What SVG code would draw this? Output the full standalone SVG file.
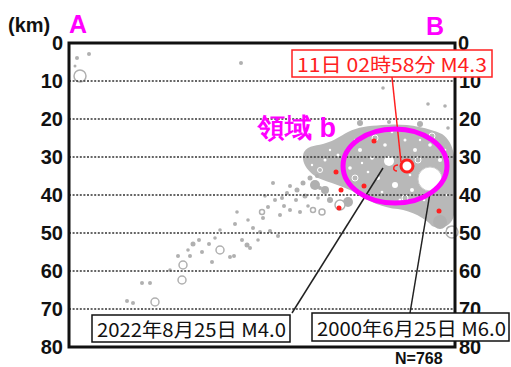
<svg xmlns="http://www.w3.org/2000/svg" width="511" height="367" viewBox="0 0 511 367">
<style>
.ax{font-family:"Liberation Sans",Arial,sans-serif;font-weight:bold;font-size:20px;fill:#111}
.axl{text-anchor:end}
.mg{font-family:"Liberation Sans",Arial,sans-serif;font-weight:bold;fill:#ff00ff}
.grid{stroke:#333;stroke-width:1.5;stroke-dasharray:2 1.6}
.d{fill:#b0b0b0}
.h{fill:#fff;stroke:#b0b0b0;stroke-width:1.5}
.hs{fill:none;stroke:#fff;stroke-width:1}
.w{fill:#fff}
.r{fill:#ff2020}
.lbl{font-family:"Noto Sans CJK JP","Liberation Sans",sans-serif;font-size:19px;fill:#111}
.box{fill:#fff;stroke:#111;stroke-width:1.5}
</style>
<rect width="511" height="367" fill="#fff"/>

<g id="scatter">
  <path d="M304,152 C308,145 318,146 326,143 C334,141 340,136 348,132 C358,127 368,126 382,125 C402,123 425,126 442,134 C455,143 456,160 455,185 L454,215 C452,226 442,230 432,226 C425,218 412,211 398,209 C383,208 370,202 356,193 C343,186 330,183 318,178 C308,172 300,162 304,152 Z" fill="#b8b8b8"/>
  <circle class="d" cx="315" cy="185" r="5"/><circle class="d" cx="325" cy="190" r="4"/>
  <circle class="d" cx="348" cy="202" r="5"/><circle class="d" cx="330" cy="200" r="3"/>
  <circle class="d" cx="440" cy="222" r="7"/><circle class="d" cx="450" cy="230" r="4"/>
  <circle class="d" cx="360" cy="123" r="3"/><circle class="d" cx="420" cy="124" r="3"/>
  <g class="w">
  <circle cx="360" cy="150" r="2"/><circle cx="372" cy="158" r="1.8"/>
  <circle cx="385" cy="145" r="1.8"/><circle cx="415" cy="150" r="2"/>
  <circle cx="430" cy="145" r="1.8"/><circle cx="395" cy="185" r="3"/>
  <circle cx="378" cy="178" r="2"/><circle cx="412" cy="190" r="2"/>
  <circle cx="350" cy="168" r="1.8"/><circle cx="440" cy="160" r="2"/>
  <circle cx="405" cy="140" r="1.5"/><circle cx="365" cy="195" r="1.5"/>
  <circle cx="325" cy="160" r="1.5"/><circle cx="338" cy="155" r="1.5"/>
  <circle cx="355" cy="140" r="1.2"/><circle cx="368" cy="172" r="1.3"/>
  <circle cx="382" cy="192" r="1.3"/><circle cx="420" cy="140" r="1.2"/>
  <circle cx="445" cy="150" r="1.3"/><circle cx="424" cy="200" r="1.3"/>
  <circle cx="400" cy="200" r="1.5"/><circle cx="346" cy="180" r="1.3"/>
  <circle cx="312" cy="165" r="1.2"/><circle cx="330" cy="150" r="1.2"/>
  <circle cx="392" cy="132" r="1.3"/><circle cx="410" cy="175" r="1.3"/>
  <circle cx="447" cy="195" r="1.3"/><circle cx="362" cy="163" r="1.2"/>
  </g>
  <circle class="hs" cx="375" cy="138" r="3"/><circle class="hs" cx="418" cy="160" r="3"/>
  <circle class="hs" cx="355" cy="178" r="3"/><circle class="hs" cx="432" cy="136" r="3"/>
  <circle class="hs" cx="405" cy="198" r="3"/><circle class="hs" cx="320" cy="170" r="2.5"/>
  <circle class="h" cx="340" cy="205" r="5"/><circle class="h" cx="322" cy="212" r="3"/>
  <circle class="h" cx="313" cy="210" r="2.5"/><circle class="h" cx="262" cy="212" r="2.5"/>
  <circle class="h" cx="220" cy="250" r="4"/><circle class="h" cx="183" cy="265" r="4"/>
  <circle class="h" cx="182" cy="280" r="4"/><circle class="h" cx="155" cy="302" r="4"/>
  <circle class="h" cx="80" cy="76" r="6"/><circle class="h" cx="452" cy="232" r="6"/>
  <circle class="d" cx="77" cy="58" r="2"/><circle class="d" cx="89" cy="54" r="2"/>
  <circle class="d" cx="75" cy="66" r="1.5"/><circle class="d" cx="241" cy="63" r="2"/>
  <circle class="d" cx="383" cy="88" r="1.8"/><circle class="d" cx="428" cy="104" r="1.8"/>
  <circle class="d" cx="445" cy="106" r="1.8"/><circle class="d" cx="448" cy="128" r="1.8"/>
  <circle class="d" cx="389" cy="122" r="2"/><circle class="d" cx="273" cy="183" r="2"/>
  <circle class="d" cx="142" cy="283" r="2"/><circle class="d" cx="150" cy="283" r="2"/>
  <circle class="d" cx="127" cy="301" r="2"/><circle class="d" cx="133" cy="303" r="2"/>
  <circle class="d" cx="178" cy="256" r="2"/><circle class="d" cx="190" cy="256" r="2"/>
  <circle class="d" cx="193" cy="244" r="2.5"/><circle class="d" cx="199" cy="240" r="2"/>
  <circle class="d" cx="202" cy="252" r="2"/><circle class="d" cx="209" cy="244" r="2"/>
  <circle class="d" cx="212" cy="262" r="2"/><circle class="d" cx="230" cy="257" r="2"/>
  <circle class="d" cx="234" cy="256" r="2"/><circle class="d" cx="235" cy="224" r="2"/>
  <circle class="d" cx="242" cy="240" r="2"/><circle class="d" cx="247" cy="245" r="2.5"/>
  <circle class="d" cx="250" cy="248" r="2"/><circle class="d" cx="253" cy="228" r="2"/>
  <circle class="d" cx="260" cy="232" r="2"/><circle class="d" cx="263" cy="218" r="2"/>
  <circle class="d" cx="268" cy="207" r="2"/><circle class="d" cx="270" cy="231" r="2"/>
  <circle class="d" cx="278" cy="236" r="2"/><circle class="d" cx="275" cy="200" r="2"/>
  <circle class="d" cx="282" cy="198" r="2"/><circle class="d" cx="287" cy="193" r="2"/>
  <circle class="d" cx="290" cy="210" r="2"/><circle class="d" cx="300" cy="212" r="2"/>
  <circle class="d" cx="290" cy="186" r="2"/><circle class="d" cx="297" cy="190" r="2.5"/>
  <circle class="d" cx="303" cy="183" r="2.5"/><circle class="d" cx="310" cy="178" r="2.5"/>
  <circle class="d" cx="317" cy="176" r="2"/><circle class="d" cx="320" cy="188" r="2"/>
  <circle class="d" cx="305" cy="196" r="2.5"/><circle class="d" cx="296" cy="200" r="2"/>
  <circle class="d" cx="284" cy="206" r="2"/><circle class="d" cx="280" cy="215" r="2"/>
  <circle class="d" cx="237" cy="212" r="1.8"/><circle class="d" cx="220" cy="230" r="1.8"/>
  <circle class="d" cx="248" cy="220" r="1.8"/><circle class="d" cx="258" cy="240" r="1.8"/>
  <circle class="d" cx="318" cy="198" r="1.8"/><circle class="d" cx="308" cy="206" r="1.8"/>
  <circle class="d" cx="215" cy="238" r="1.8"/><circle class="d" cx="188" cy="250" r="1.8"/>
  <circle class="d" cx="170" cy="270" r="1.8"/><circle class="d" cx="265" cy="196" r="1.8"/>
  <circle class="w" cx="430" cy="179" r="12" stroke="#ccc" stroke-width="1"/>
  <circle class="w" cx="389" cy="161" r="5"/>
  <circle class="r" cx="374" cy="141" r="2.5"/><circle class="r" cx="336" cy="172" r="2.5"/>
  <circle class="r" cx="341" cy="190" r="2.5"/><circle class="r" cx="364" cy="186" r="2.5"/>
  <circle class="r" cx="339" cy="208" r="2.5"/><circle class="r" cx="439" cy="211" r="2.5"/>
</g>

<g id="grid">
  <line class="grid" x1="69" y1="81" x2="455" y2="81"/>
  <line class="grid" x1="69" y1="119" x2="455" y2="119"/>
  <line class="grid" x1="69" y1="157" x2="455" y2="157"/>
  <line class="grid" x1="69" y1="195" x2="455" y2="195"/>
  <line class="grid" x1="69" y1="233" x2="455" y2="233"/>
  <line class="grid" x1="69" y1="271" x2="455" y2="271"/>
  <line class="grid" x1="69" y1="309" x2="455" y2="309"/>
</g>

<g id="axes">
  <rect x="69" y="43" width="386" height="304" fill="none" stroke="#111" stroke-width="3"/>
  <text class="ax" x="8" y="32" font-size="15">(km)</text>
  <g class="ax axl">
    <text x="63" y="50">0</text>
    <text x="63" y="88">10</text>
    <text x="63" y="126">20</text>
    <text x="63" y="164">30</text>
    <text x="63" y="202">40</text>
    <text x="63" y="240">50</text>
    <text x="63" y="278">60</text>
    <text x="63" y="316">70</text>
    <text x="63" y="354">80</text>
  </g>
  <g class="ax">
    <text x="458" y="50">0</text>
    <text x="459" y="88">10</text>
    <text x="459" y="126">20</text>
    <text x="459" y="164">30</text>
    <text x="459" y="202">40</text>
    <text x="459" y="240">50</text>
    <text x="459" y="278">60</text>
    <text x="459" y="316">70</text>
    <text x="459" y="354">80</text>
    <text x="395" y="364" font-size="16">N=768</text>
  </g>
  <text class="mg" x="69" y="33" font-size="25">A</text>
  <text class="mg" x="426" y="35" font-size="25">B</text>
</g>

<g id="connectors">
  <line x1="292" y1="313" x2="383" y2="168" stroke="#222" stroke-width="1.5"/>
  <line x1="410" y1="313" x2="430" y2="193" stroke="#222" stroke-width="1.5"/>
  <path d="M392,77 L401,162" stroke="#ff2020" stroke-width="1.5" fill="none"/>
  <path d="M398,165 C393,165 392,171 397,171" stroke="#ff2020" stroke-width="1.5" fill="none"/>
</g>

<g id="region-b">
  <ellipse cx="395" cy="166" rx="52" ry="37" fill="none" stroke="#ff00ff" stroke-width="5"/>
  <text class="mg" x="258" y="137" font-size="27">領域 b</text>
</g>

<g id="mainshock">
  <circle cx="407" cy="166" r="6" fill="#fff" stroke="#ff2020" stroke-width="3"/>
</g>

<g id="label-main">
  <rect x="292" y="50" width="200" height="27" fill="#fff" stroke="#ff2020" stroke-width="1.5"/>
  <text class="lbl" x="297" y="72" textLength="190" lengthAdjust="spacingAndGlyphs" style="fill:#ff2020">11日 02時58分 M4.3</text>
</g>

<g id="label-2022">
  <rect class="box" x="92" y="315" width="198" height="27"/>
  <text class="lbl" x="97" y="337" textLength="189" lengthAdjust="spacingAndGlyphs">2022年8月25日 M4.0</text>
</g>

<g id="label-2000">
  <rect class="box" x="312" y="313" width="197" height="28"/>
  <text class="lbl" x="317" y="336" textLength="189" lengthAdjust="spacingAndGlyphs">2000年6月25日 M6.0</text>
</g>
</svg>
